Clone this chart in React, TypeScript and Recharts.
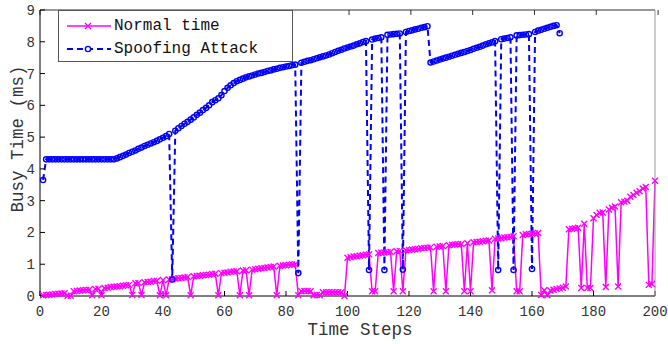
import { Legend, Line, LineChart, XAxis, YAxis } from 'recharts';

const FONT = '"Liberation Mono", "DejaVu Sans Mono", monospace';
const MAGENTA = '#ff00ff';
const BLUE = '#0000ff';

// busy time per step (x = 1..200)
const normalTime = [
  0.02, 0.03, 0.04, 0.05, 0.06, 0.07, 0.08, 0.09, 0.01, 0.01,
  0.15, 0.16, 0.17, 0.18, 0.19, 0.2, 0.02, 0.22, 0.23, 0.02,
  0.25, 0.26, 0.28, 0.29, 0.3, 0.31, 0.32, 0.34, 0.35, 0.03,
  0.4, 0.41, 0.03, 0.43, 0.44, 0.45, 0.47, 0.48, 0.02, 0.5,
  0.02, 0.52, 0.53, 0.55, 0.56, 0.57, 0.58, 0.6, 0.02, 0.62,
  0.63, 0.64, 0.65, 0.66, 0.67, 0.69, 0.7, 0.02, 0.72, 0.73,
  0.74, 0.76, 0.77, 0.78, 0.02, 0.8, 0.81, 0.02, 0.83, 0.84,
  0.86, 0.87, 0.88, 0.9, 0.91, 0.93, 0.02, 0.95, 0.96, 0.97,
  0.98, 0.99, 1.0, 0.02, 0.15, 0.16, 0.16, 0.15, 0.02, 0.03,
  0.02, 0.12, 0.12, 0.12, 0.12, 0.12, 0.12, 0.12, 0.0, 1.2,
  1.22, 1.24, 1.25, 1.27, 1.28, 1.3, 1.31, 0.15, 0.15, 1.35,
  1.36, 1.37, 1.38, 1.39, 0.15, 1.41, 1.42, 0.15, 1.44, 1.45,
  1.46, 1.47, 1.48, 1.5, 1.51, 1.52, 1.53, 0.15, 1.55, 1.56,
  1.57, 0.15, 1.6, 1.61, 1.62, 1.63, 1.64, 0.15, 1.66, 0.15,
  1.69, 1.7, 1.71, 1.72, 1.74, 1.75, 0.18, 1.8, 1.81, 1.82,
  1.84, 1.85, 1.86, 1.88, 0.15, 0.15, 1.92, 1.94, 1.95, 1.96,
  1.97, 1.98, 0.03, 0.18, 0.02, 0.17, 0.2, 0.22, 0.24, 0.26,
  0.3, 2.1, 2.12, 2.13, 2.15, 0.25, 2.27, 0.25, 0.25, 2.45,
  2.55, 2.62, 2.63, 0.28, 2.72, 2.78, 2.82, 0.3, 2.95, 2.97,
  3.0, 3.12, 3.18, 3.25, 3.3, 3.38, 3.43, 0.35, 0.38, 3.63,
];

// attack series stops at step 169
const spoofingAttack = [
  3.65, 4.3, 4.3, 4.3, 4.3, 4.3, 4.3, 4.3, 4.3, 4.3,
  4.3, 4.3, 4.3, 4.3, 4.3, 4.3, 4.3, 4.3, 4.3, 4.3,
  4.3, 4.3, 4.3, 4.3, 4.33, 4.37, 4.41, 4.45, 4.5, 4.54,
  4.58, 4.63, 4.67, 4.72, 4.76, 4.8, 4.84, 4.88, 4.93, 4.98,
  5.03, 5.1, 0.52, 5.2, 5.28, 5.35, 5.42, 5.48, 5.55, 5.62,
  5.7, 5.77, 5.85, 5.92, 6.0, 6.1, 6.16, 6.22, 6.32, 6.45,
  6.55, 6.63, 6.7, 6.76, 6.8, 6.84, 6.88, 6.91, 6.94, 6.97,
  7.0, 7.02, 7.05, 7.08, 7.1, 7.13, 7.15, 7.18, 7.2, 7.22,
  7.24, 7.26, 7.28, 0.72, 7.34, 7.37, 7.4, 7.42, 7.45, 7.48,
  7.51, 7.54, 7.57, 7.6, 7.64, 7.68, 7.72, 7.75, 7.79, 7.82,
  7.85, 7.88, 7.92, 7.95, 7.99, 8.02, 0.82, 8.07, 8.1, 8.12,
  8.14, 0.82, 8.22, 8.23, 8.24, 8.25, 8.26, 0.83, 8.31, 8.34,
  8.36, 8.39, 8.41, 8.44, 8.46, 8.49, 7.35, 7.38, 7.41, 7.44,
  7.47, 7.5, 7.53, 7.56, 7.59, 7.62, 7.65, 7.68, 7.71, 7.74,
  7.78, 7.81, 7.84, 7.88, 7.92, 7.95, 7.98, 8.02, 0.82, 8.08,
  8.1, 8.12, 8.14, 0.82, 8.2, 8.21, 8.22, 8.23, 8.24, 0.85,
  8.31, 8.35, 8.38, 8.41, 8.44, 8.47, 8.5, 8.52, 8.27,
];

const xTicks = [0, 20, 40, 60, 80, 100, 120, 140, 160, 180, 200];
const yTicks = [0, 1, 2, 3, 4, 5, 6, 7, 8, 9];

const rows = normalTime.map((v, i) => ({
  step: i + 1,
  normal: v,
  attack: i < spoofingAttack.length ? spoofingAttack[i] : null,
}));

const CrossDot = (props: any) => {
  const { cx, cy, index } = props;
  if (cx == null || cy == null) return <g key={`n-${index}`} />;
  const s = 3;
  return (
    <path
      key={`n-${index}`}
      d={`M${cx - s},${cy - s}L${cx + s},${cy + s}M${cx - s},${cy + s}L${cx + s},${cy - s}`}
      stroke={MAGENTA}
      strokeWidth={1.4}
      fill="none"
    />
  );
};

const CircleDot = (props: any) => {
  const { cx, cy, index } = props;
  if (cx == null || cy == null) return <g key={`a-${index}`} />;
  return <circle key={`a-${index}`} cx={cx} cy={cy} r={2.6} stroke={BLUE} strokeWidth={1.4} fill="none" />;
};

const NoTick = () => <g />;

const LegendBox = () => (
  <div
    style={{
      position: 'relative',
      width: 235,
      height: 52,
      boxSizing: 'border-box',
      border: '1px solid #555',
      background: '#fff',
      fontFamily: FONT,
      fontSize: 16,
      color: '#111',
    }}
  >
    <div style={{ position: 'absolute', left: 7, top: 5, height: 20, display: 'flex', alignItems: 'center' }}>
      <svg width={46} height={20}>
        <line x1={1} y1={10} x2={45} y2={10} stroke={MAGENTA} strokeWidth={1.5} />
        <path d="M19,7L25,13M19,13L25,7" stroke={MAGENTA} strokeWidth={1.4} />
      </svg>
      <span style={{ marginLeft: 2, whiteSpace: 'pre' }}>Normal time</span>
    </div>
    <div style={{ position: 'absolute', left: 7, top: 28, height: 20, display: 'flex', alignItems: 'center' }}>
      <svg width={46} height={20}>
        <line x1={1} y1={10} x2={45} y2={10} stroke={BLUE} strokeWidth={2} strokeDasharray="6 4" />
        <circle cx={22} cy={10} r={2.6} stroke={BLUE} strokeWidth={1.4} fill="#fff" />
      </svg>
      <span style={{ marginLeft: 2, whiteSpace: 'pre' }}>Spoofing Attack</span>
    </div>
  </div>
);

export default function App() {
  return (
    <div style={{ position: 'absolute', left: 0, top: 0 }}>
      <LineChart width={668} height={344} data={rows} margin={{ top: 9, right: 12, left: 0, bottom: 1 }}>
        <XAxis
          dataKey="step"
          type="number"
          domain={[0, 200]}
          ticks={xTicks}
          interval={0}
          height={47}
          tickSize={-5}
          tickMargin={15}
          axisLine={{ stroke: '#000' }}
          tickLine={{ stroke: '#000' }}
          tick={{ fontSize: 14, fill: '#333', fontFamily: FONT }}
          label={() => (
            <text x={360} y={335} textAnchor="middle" fontSize={17.5} fontFamily={FONT} fill="#333">
              Time Steps
            </text>
          )}
        />
        <XAxis
          xAxisId="top"
          orientation="top"
          type="number"
          domain={[0, 200]}
          ticks={xTicks}
          interval={0}
          height={1}
          tickSize={-5}
          axisLine={{ stroke: '#333' }}
          tickLine={{ stroke: '#333' }}
          tick={NoTick}
        />
        <YAxis
          type="number"
          domain={[0, 9]}
          ticks={yTicks}
          interval={0}
          width={40}
          tickSize={-5}
          tickMargin={10}
          axisLine={{ stroke: '#000' }}
          tickLine={{ stroke: '#000' }}
          tick={{ fontSize: 14, fill: '#333', fontFamily: FONT }}
          label={() => (
            <text
              x={22.5}
              y={139}
              transform="rotate(-90, 22.5, 139)"
              textAnchor="middle"
              fontSize={17.5}
              fontFamily={FONT}
              fill="#333"
            >
              Busy Time (ms)
            </text>
          )}
        />
        <YAxis
          yAxisId="right"
          orientation="right"
          type="number"
          domain={[0, 9]}
          ticks={yTicks}
          interval={0}
          width={1}
          tickSize={-5}
          axisLine={{ stroke: '#999' }}
          tickLine={{ stroke: '#333' }}
          tick={NoTick}
        />
        <Legend
          layout="vertical"
          verticalAlign="middle"
          align="center"
          wrapperStyle={{ left: 58, top: 10, width: 235, height: 52 }}
          content={() => <LegendBox />}
        />
        <Line
          dataKey="normal"
          name="Normal time"
          stroke={MAGENTA}
          strokeWidth={1.5}
          dot={CrossDot}
          activeDot={false}
          isAnimationActive={false}
        />
        <Line
          dataKey="attack"
          name="Spoofing Attack"
          stroke={BLUE}
          strokeWidth={2}
          strokeDasharray="6 4"
          dot={CircleDot}
          activeDot={false}
          isAnimationActive={false}
        />
      </LineChart>
    </div>
  );
}
